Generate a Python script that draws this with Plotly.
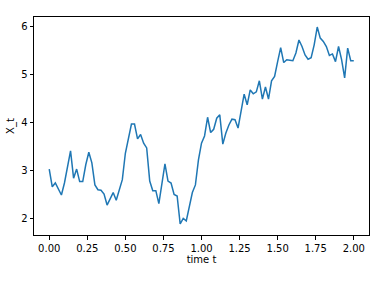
import plotly.graph_objects as go

t = [round(i * 0.02, 2) for i in range(101)]
x_t = [3.02, 2.65, 2.73, 2.59, 2.48, 2.73, 3.04, 3.40, 2.83, 3.02,
       2.76, 2.76, 3.11, 3.37, 3.15, 2.69, 2.59, 2.58, 2.50, 2.27,
       2.40, 2.53, 2.37, 2.59, 2.80, 3.35, 3.68, 3.96, 3.96, 3.65,
       3.74, 3.56, 3.46, 2.77, 2.57, 2.57, 2.30, 2.73, 3.13, 2.77,
       2.73, 2.49, 2.46, 1.875, 1.99, 1.94, 2.24, 2.53, 2.69, 3.21,
       3.56, 3.71, 4.10, 3.78, 3.85, 4.08, 4.15, 3.54, 3.77, 3.94,
       4.06, 4.05, 3.875, 4.26, 4.58, 4.36, 4.67, 4.59, 4.63, 4.86,
       4.48, 4.73, 4.48, 4.86, 4.95, 5.26, 5.55, 5.24, 5.30, 5.29,
       5.28, 5.44, 5.71, 5.575, 5.40, 5.31, 5.34, 5.61, 5.98, 5.75,
       5.68, 5.575, 5.39, 5.42, 5.26, 5.575, 5.30, 4.92, 5.54, 5.28,
       5.28]
x_ticks = [0.0, 0.25, 0.5, 0.75, 1.0, 1.25, 1.5, 1.75, 2.0]
x_tick_labels = ["0.00", "0.25", "0.50", "0.75", "1.00", "1.25", "1.50", "1.75", "2.00"]
y_ticks = [2, 3, 4, 5, 6]

fig = go.Figure(go.Scatter(x=t, y=x_t, mode="lines",
                           line=dict(color="#1f77b4", width=1.5)))

axis_common = dict(showgrid=False, zeroline=False, showline=True, linecolor="black",
                   linewidth=1, mirror=True, ticks="outside", ticklen=3.5,
                   tickwidth=1, tickcolor="black", automargin=False,
                   tickfont=dict(family="DejaVu Sans", size=10, color="black"))

fig.update_layout(
    width=389, height=284,
    margin=dict(l=34, r=20, t=17, b=49),
    paper_bgcolor="white", plot_bgcolor="white",
    showlegend=False,
    xaxis=dict(range=[-0.1, 2.1], tickvals=x_ticks, ticktext=x_tick_labels,
               title=dict(text="time t", font=dict(family="DejaVu Sans", size=10, color="black"),
                          standoff=3),
               **axis_common),
    yaxis=dict(range=[1.646, 6.19], tickvals=y_ticks,
               title=dict(text="X_t", font=dict(family="DejaVu Sans", size=10, color="black"),
                          standoff=4),
               **axis_common),
)

fig.write_html("out.html")
